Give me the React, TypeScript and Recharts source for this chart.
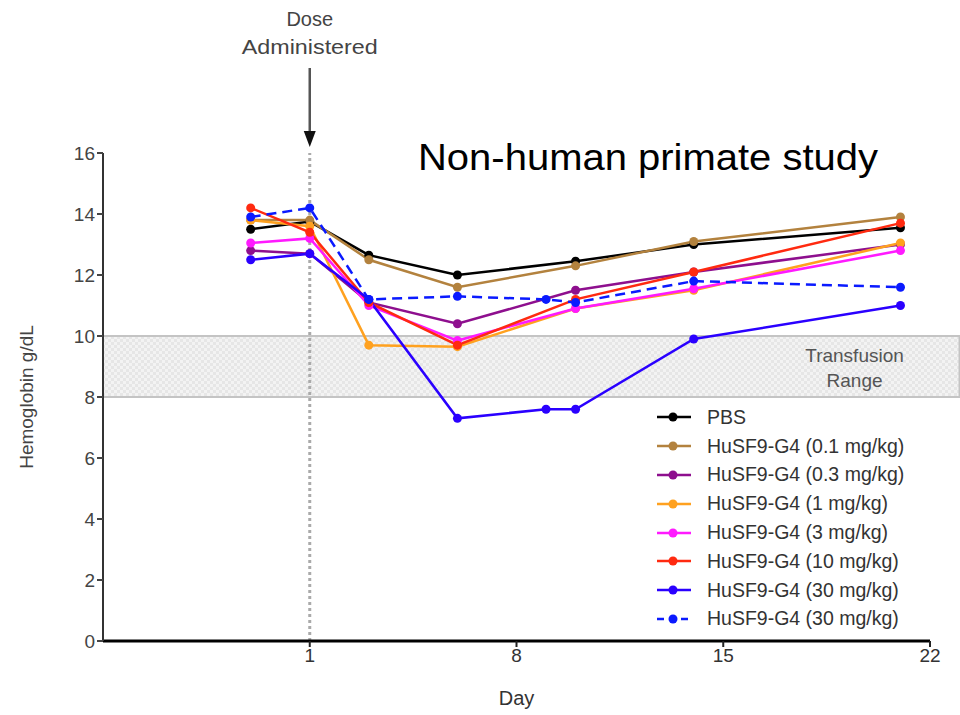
import React from 'react';
import { LineChart, Line, XAxis, YAxis, ReferenceArea, ReferenceLine } from 'recharts';

const seriesNames = [
  'PBS',
  'HuSF9-G4 (0.1 mg/kg)',
  'HuSF9-G4 (0.3 mg/kg)',
  'HuSF9-G4 (1 mg/kg)',
  'HuSF9-G4 (3 mg/kg)',
  'HuSF9-G4 (10 mg/kg)',
  'HuSF9-G4 (30 mg/kg)',
  'HuSF9-G4 (30 mg/kg)',
];
const seriesColors = ['#000000', '#b3823e', '#8e0f8e', '#ffa11f', '#ff1aff', '#ff2a10', '#2a00ff', '#0a1aff'];
const seriesDashed = [false, false, false, false, false, false, false, true];

const commonDays = [-1, 1, 3, 6, 10, 14, 21];
const highDoseDays = [-1, 1, 3, 6, 9, 10, 14, 21];

const pbsValues = [13.5, 13.75, 12.65, 12.0, 12.45, 13.0, 13.55];
const dose01Values = [13.8, 13.8, 12.5, 11.6, 12.3, 13.1, 13.9];
const dose03Values = [12.8, 12.7, 11.1, 10.4, 11.5, 12.1, 13.0];
const dose1Values = [13.8, 13.6, 9.7, 9.65, 10.9, 11.5, 13.05];
const dose3Values = [13.05, 13.2, 11.0, 9.85, 10.9, 11.55, 12.8];
const dose10Values = [14.2, 13.4, 11.1, 9.7, 11.2, 12.1, 13.7];
const dose30aValues = [12.5, 12.7, 11.2, 7.3, 7.6, 7.6, 9.9, 11.0];
const dose30bValues = [13.9, 14.2, 11.2, 11.3, 11.2, 11.1, 11.8, 11.6];

const xTicks = [1, 8, 15, 22];
const yTicks = [0, 2, 4, 6, 8, 10, 12, 14, 16];
const doseDay = 1;
const transfusionLow = 8;
const transfusionHigh = 10;

const seriesDays = [commonDays, commonDays, commonDays, commonDays, commonDays, commonDays, highDoseDays, highDoseDays];
const seriesValues = [pbsValues, dose01Values, dose03Values, dose1Values, dose3Values, dose10Values, dose30aValues, dose30bValues];

const series = seriesNames.map((name, i) => ({
  key: 's' + i,
  name,
  color: seriesColors[i],
  dashed: seriesDashed[i],
  data: seriesDays[i].map((d, j) => ({ day: d, value: seriesValues[i][j] })),
}));

const FONT = '"Liberation Sans", Arial, sans-serif';

const makeDot = (color: string) => (props: any) => {
  const { cx, cy, index } = props;
  if (cx == null || cy == null) return <g key={'d' + index} />;
  return <circle key={'d' + index} cx={cx} cy={cy} r={4.5} fill={color} stroke="none" />;
};

const DoseLabel = (props: any) => {
  const { viewBox } = props;
  if (!viewBox) return null;
  const x = viewBox.x;
  const top = viewBox.y;
  return (
    <g>
      <text x={x} y={top - 127} textAnchor="middle" fontSize={20} fill="#444" fontFamily={FONT}>Dose</text>
      <text x={x} y={top - 99} textAnchor="middle" fontSize={21} fill="#444" fontFamily={FONT} textLength={136} lengthAdjust="spacingAndGlyphs">Administered</text>
      <line x1={x} y1={top - 85} x2={x} y2={top - 20} stroke="#555" strokeWidth={2.5} />
      <polygon points={`${x - 6},${top - 22} ${x + 6},${top - 22} ${x},${top - 6}`} fill="#111" />
    </g>
  );
};

const BandLabel = (props: any) => {
  const { viewBox } = props;
  if (!viewBox) return null;
  const cx = viewBox.x + viewBox.width - 105;
  const cy = viewBox.y + viewBox.height / 2;
  return (
    <g>
      <text x={cx} y={cy - 5} textAnchor="middle" fontSize={19} fill="#555" fontFamily={FONT}>Transfusion</text>
      <text x={cx} y={cy + 20} textAnchor="middle" fontSize={19} fill="#555" fontFamily={FONT}>Range</text>
    </g>
  );
};

const LegendBox = () => (
  <div style={{ position: 'absolute', left: 655, top: 403, fontFamily: FONT }}>
    {series.map((s) => (
      <div key={s.key} style={{ display: 'flex', alignItems: 'center', height: 28.8 }}>
        <svg width={52} height={20} style={{ display: 'block' }}>
          <line x1={2} y1={10} x2={36} y2={10} stroke={s.color} strokeWidth={2.5} strokeDasharray={s.dashed ? '7 5' : undefined} />
          <circle cx={18} cy={10} r={4.5} fill={s.color} />
        </svg>
        <span style={{ fontSize: 19.5, color: '#333', whiteSpace: 'nowrap' }}>{s.name}</span>
      </div>
    ))}
  </div>
);

export default function App() {
  return (
    <div style={{ position: 'absolute', left: 0, top: 0, width: 960, height: 715, background: '#fff', overflow: 'hidden' }}>
      <LineChart width={960} height={715} margin={{ top: 153, right: 30, bottom: 0, left: 0 }} style={{ fontFamily: FONT }}>
        <defs>
          <pattern id="bandPattern" width={6} height={6} patternUnits="userSpaceOnUse">
            <rect width={6} height={6} fill="#e6e6e6" />
            <rect width={3} height={3} fill="#f3f3f3" />
            <rect x={3} y={3} width={3} height={3} fill="#f3f3f3" />
          </pattern>
        </defs>
        <XAxis
          type="number"
          dataKey="day"
          domain={[-6, 22]}
          ticks={xTicks}
          allowDataOverflow
          height={74}
          axisLine={{ stroke: '#000', strokeWidth: 3 }}
          tickLine={{ stroke: '#222', strokeWidth: 2 }}
          tickSize={6}
          tick={{ fontSize: 19, fill: '#333', fontFamily: FONT }}
          label={{ value: 'Day', position: 'insideBottom', offset: 10, style: { fontSize: 20, fill: '#333', fontFamily: FONT } }}
        />
        <YAxis
          type="number"
          domain={[0, 16]}
          ticks={yTicks}
          width={103}
          axisLine={{ stroke: '#333', strokeWidth: 2 }}
          tickLine={{ stroke: '#444', strokeWidth: 2 }}
          tickSize={6}
          tick={{ fontSize: 19, fill: '#444', fontFamily: FONT }}
          label={{ value: 'Hemoglobin g/dL', angle: -90, position: 'insideLeft', offset: 26, style: { fontSize: 19, fill: '#444', fontFamily: FONT, textAnchor: 'middle' } }}
        />
        <ReferenceArea
          x1={-6}
          x2={23}
          y1={transfusionLow}
          y2={transfusionHigh}
          ifOverflow="visible"
          fill="url(#bandPattern)"
          fillOpacity={1}
          stroke="#c4c4c4"
          strokeWidth={2}
          label={<BandLabel />}
        />
        <ReferenceLine
          x={doseDay}
          stroke="#aaa"
          strokeWidth={3}
          strokeDasharray="3 3"
          ifOverflow="visible"
          label={<DoseLabel />}
        />
        {series.map((s) => (
          <Line
            key={s.key}
            data={s.data}
            dataKey="value"
            name={s.name}
            type="linear"
            stroke={s.color}
            strokeWidth={2.5}
            strokeDasharray={s.dashed ? '10 6' : undefined}
            dot={makeDot(s.color)}
            activeDot={false}
            isAnimationActive={false}
          />
        ))}
      </LineChart>
      <LegendBox />
      <svg width={960} height={715} style={{ position: 'absolute', left: 0, top: 0, pointerEvents: 'none' }}>
        <text x={418} y={170} fontSize={36} fill="#000" fontFamily={FONT} textLength={460} lengthAdjust="spacingAndGlyphs">Non-human primate study</text>
      </svg>
    </div>
  );
}
